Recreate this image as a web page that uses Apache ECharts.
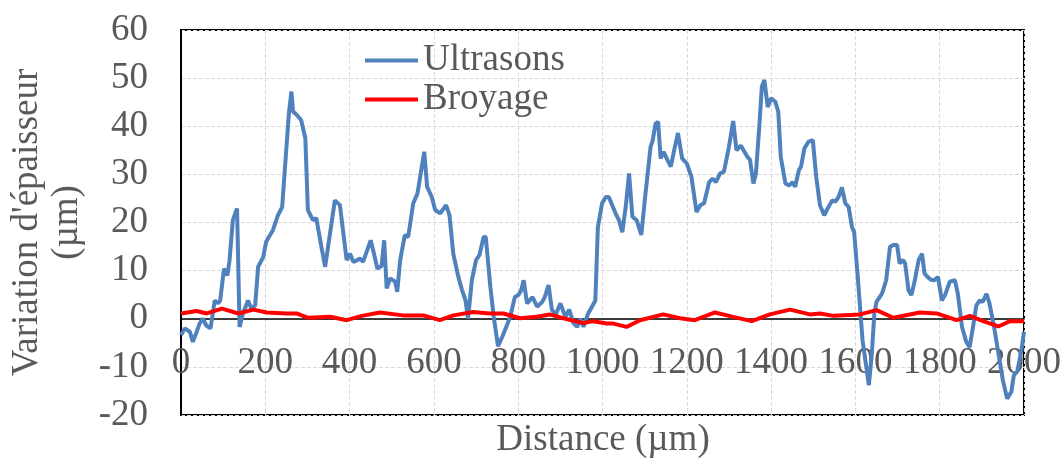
<!DOCTYPE html>
<html>
<head>
<meta charset="utf-8">
<script src="https://cdn.jsdelivr.net/npm/echarts@6/dist/echarts.min.js"></script>
<style>
  html, body { margin: 0; padding: 0; background: #fff; }
  #chart { width: 1064px; height: 459px; }
</style>
</head>
<body>
<div id="chart"></div>
<script>
// thickness variation profiles
var distUltra = [0, 9, 21, 28, 36, 44, 52, 60, 70, 80, 88, 93, 102, 110, 115, 123, 133, 139, 147, 159, 167, 176, 183, 195, 202, 218, 230, 240, 248, 256, 262, 266, 271, 285, 295, 301, 313, 321, 333, 342, 365, 377, 393, 401, 409, 425, 432, 450, 456, 466, 476, 482, 488, 496, 508, 513, 520, 531, 539, 551, 561, 577, 584, 595, 603, 615, 629, 637, 646, 658, 667, 675, 681, 690, 700, 708, 718, 723, 734, 742, 752, 762, 773, 781, 792, 801, 807, 813, 821, 834, 845, 857, 863, 872, 880, 890, 900, 912, 921, 931, 940, 948, 955, 966, 975, 983, 989, 999, 1008, 1015, 1023, 1031, 1039, 1047, 1055, 1063, 1071, 1081, 1092, 1102, 1114, 1119, 1126, 1132, 1138, 1145, 1154, 1162, 1171, 1179, 1189, 1200, 1211, 1223, 1232, 1241, 1253, 1261, 1269, 1279, 1288, 1300, 1310, 1318, 1328, 1344, 1350, 1358, 1364, 1372, 1378, 1384, 1392, 1400, 1410, 1417, 1423, 1434, 1443, 1451, 1457, 1466, 1471, 1479, 1489, 1499, 1507, 1516, 1526, 1534, 1545, 1552, 1560, 1568, 1576, 1584, 1592, 1597, 1605, 1617, 1632, 1639, 1645, 1650, 1663, 1673, 1682, 1689, 1699, 1705, 1713, 1718, 1726, 1733, 1741, 1750, 1758, 1764, 1771, 1779, 1787, 1796, 1805, 1813, 1824, 1836, 1843, 1853, 1863, 1871, 1879, 1887, 1895, 1902, 1911, 1918, 1929, 1938, 1950, 1960, 1970, 1976, 1984, 1994, 2000];
var ultrasons = [-3.4, -2, -2.7, -4.8, -3, -1, 0, -1.4, -2, 3.8, 3.2, 3.8, 10.4, 9, 12, 20.5, 22.9, -1.7, 1.1, 3.8, 2.1, 2.8, 10.8, 12.8, 16, 18.4, 21.5, 23.2, 33, 42.7, 47.2, 43, 42.7, 41.3, 37.5, 22.6, 20.5, 20.9, 15, 10.8, 24.6, 23.6, 12.2, 13.5, 11.8, 12.5, 11.8, 16.3, 14.2, 10.4, 11, 16.3, 6.3, 8.4, 7.7, 5.6, 12.2, 17.4, 17, 24, 26, 34.7, 27.4, 25.3, 22.6, 21.9, 23.6, 21.5, 13.5, 8.7, 5.9, 3.8, 0, 8, 12.2, 13.2, 17, 17, 6.6, 0.4, -5.7, -3.8, -1.4, 0.4, 4.5, 5, 5.9, 8, 3.2, 4.5, 2.5, 3.5, 4.5, 7, 1.8, 1, 3.2, 0.4, 1.9, -0.9, -1.7, 0, -1.7, 1.1, 2.5, 3.8, 19, 24, 25.3, 25.3, 23.6, 21.9, 20.5, 18, 23.2, 30.2, 21.2, 20.5, 17.4, 26, 35.7, 37, 40.6, 40.9, 33.3, 34.7, 33, 31.6, 35.4, 38.6, 33.3, 32.3, 29.5, 22.2, 23.6, 24, 28.4, 29.1, 28.4, 30.2, 30.5, 35.7, 41.1, 35, 36, 33.6, 33, 28.1, 30.2, 39.9, 48.2, 49.6, 44, 45.8, 45.1, 43, 33.6, 28.1, 27.7, 28.4, 27.4, 30.9, 31.6, 35.4, 36.8, 37.1, 29.5, 23.6, 21.5, 22.9, 24.6, 24.3, 25.3, 27.3, 24, 23.2, 19, 18, 9.4, -4.5, -13.8, -7.2, 1.1, 3.5, 5.2, 8, 14.9, 15.3, 15.3, 11.5, 12.2, 11.5, 5.9, 4.9, 8, 12.2, 13.5, 9.4, 8.7, 8.1, 8, 8.7, 3.8, 5, 7.7, 8, 5.2, -1.7, -4.8, -5.9, -1.7, 2.8, 3.8, 3.5, 5.2, 3.2, -1.7, -6.5, -12.8, -16.6, -15.2, -11.7, -11, -6.5, -2.7];

var distBroy = [0, 37, 61, 97, 136, 172, 203, 251, 274, 302, 354, 393, 429, 472, 527, 575, 614, 646, 693, 733, 765, 804, 844, 875, 907, 954, 978, 1010, 1026, 1057, 1089, 1144, 1184, 1219, 1267, 1310, 1354, 1397, 1445, 1492, 1516, 1548, 1587, 1611, 1650, 1690, 1753, 1793, 1840, 1872, 1903, 1939, 1967, 2000];
var broyage = [1.1, 1.6, 1.1, 2.1, 1.1, 1.9, 1.3, 1.1, 1.1, 0.2, 0.4, -0.3, 0.6, 1.3, 0.7, 0.7, -0.3, 0.7, 1.4, 1.1, 1.1, 0.1, 0.4, 0.9, 0.1, -0.9, -0.5, -1, -1, -1.7, -0.3, 0.9, 0.1, -0.3, 1.3, 0.4, -0.5, 0.9, 1.9, 0.9, 1.1, 0.6, 0.8, 0.9, 1.8, 0.2, 1.3, 1.1, -0.3, 0.6, -0.5, -1.6, -0.5, -0.5];

function pairs(xs, ys) {
  return xs.map(function (x, i) { return [x, ys[i]]; });
}

var FONT = 'Liberation Serif';
var FS = 37;
var GREY = '#595959';
var Y_MIN = -20, Y_MAX = 60;
var GRID_TOP = 30, GRID_BOTTOM = 44, H = 459;
// lift the x axis (line + labels) from the grid bottom up to y = 0
var plotH = H - GRID_TOP - GRID_BOTTOM;
var zeroLift = plotH * (0 - Y_MIN) / (Y_MAX - Y_MIN);

var myChart = echarts.init(document.getElementById('chart'));

option = {
    animation: false,
    grid: {
        left: 181, right: 40, top: GRID_TOP, bottom: GRID_BOTTOM,
        outerBoundsMode: 'none',
        containLabel: false,
        show: true,
        borderColor: '#000',
        borderWidth: 2
    },
    legend: {
        orient: 'vertical',
        left: 365, top: 42,
        padding: 0,
        icon: 'rect',
        itemWidth: 53, itemHeight: 4,
        itemGap: 2,
        textStyle: { fontFamily: FONT, fontSize: FS, color: GREY },
        data: ['Ultrasons', 'Broyage']
    },
    xAxis: {
        type: 'value',
        min: 0, max: 2000, interval: 200,
        offset: -zeroLift,
        axisLine: { onZero: false, lineStyle: { color: '#000', width: 1.5 } },
        axisTick: { show: false },
        axisLabel: {
            fontFamily: FONT, fontSize: FS, color: GREY, margin: 26,
            formatter: function (v) { return String(v); }
        },
        splitLine: { lineStyle: { color: '#d9d9d9', type: 'dashed', width: 1 } }
    },
    yAxis: {
        type: 'value',
        min: Y_MIN, max: Y_MAX, interval: 10,
        name: "Variation d'épaisseur\n(µm)",
        nameLocation: 'middle',
        nameGap: 88,
        nameTextStyle: { fontFamily: FONT, fontSize: FS, color: GREY, lineHeight: 40 },
        axisLine: { show: true, lineStyle: { color: '#000', width: 2 } },
        axisTick: { show: false },
        axisLabel: { fontFamily: FONT, fontSize: FS, color: GREY, margin: 33 },
        splitLine: { lineStyle: { color: '#d9d9d9', type: 'dashed', width: 1 } }
    },
    graphic: [{
        type: 'text',
        x: 603, y: 440,
        style: {
            text: 'Distance (µm)',
            font: FS + 'px "Liberation Serif"',
            fill: GREY,
            textAlign: 'center',
            textVerticalAlign: 'middle'
        }
    }],
    series: [
        {
            name: 'Ultrasons',
            type: 'line',
            symbol: 'none',
            lineStyle: { color: '#4f81bd', width: 4 },
            itemStyle: { color: '#4f81bd' },
            data: pairs(distUltra, ultrasons)
        },
        {
            name: 'Broyage',
            type: 'line',
            symbol: 'none',
            lineStyle: { color: '#ff0000', width: 4 },
            itemStyle: { color: '#ff0000' },
            data: pairs(distBroy, broyage)
        }
    ]
};

myChart.setOption(option, true);
</script>
</body>
</html>
